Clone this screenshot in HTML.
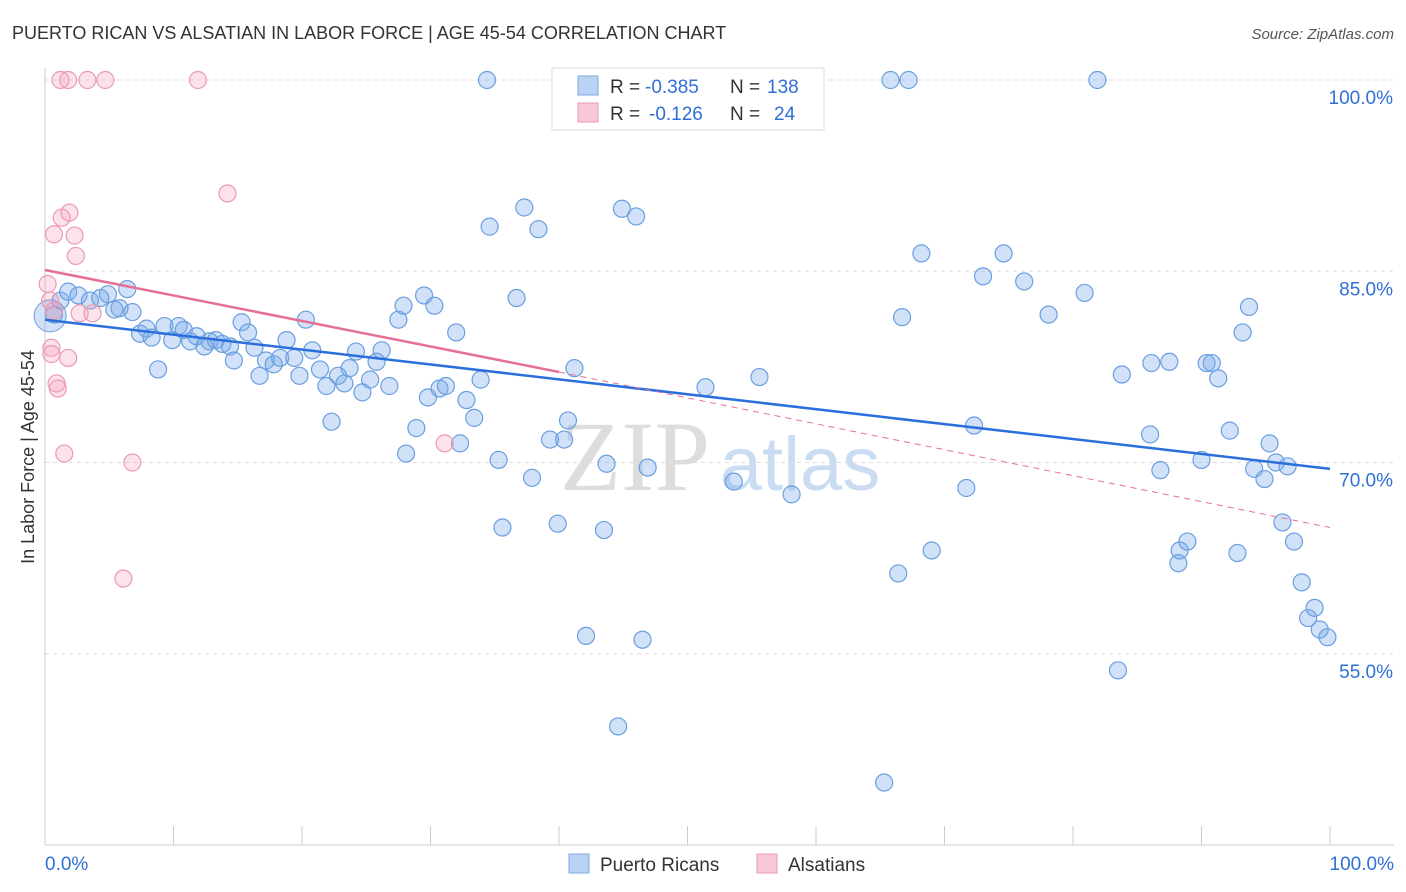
<!DOCTYPE html>
<html><head><meta charset="utf-8"><style>
body{margin:0;background:#fff;font-family:"Liberation Sans",sans-serif;}
#wrap{position:relative;width:1406px;height:892px;overflow:hidden;}
</style></head><body>
<div id="wrap">
<svg id="chart" width="1406" height="892" xmlns="http://www.w3.org/2000/svg">
<text x="12" y="39" font-size="18" fill="#333">PUERTO RICAN VS ALSATIAN IN LABOR FORCE | AGE 45-54 CORRELATION CHART</text>
<text x="1394" y="39" font-size="15" fill="#555" font-style="italic" text-anchor="end">Source: ZipAtlas.com</text>
<text x="635" y="490" font-size="100" fill="#ddd" font-family="Liberation Serif,serif" text-anchor="middle">ZIP</text>
<text x="800" y="490" font-size="76" fill="#c9dcf2" text-anchor="middle">atlas</text>
<g id="grid"></g><g id="pts"></g><g id="lines"></g>
<text transform="translate(34,457) rotate(-90)" font-size="18" fill="#333" text-anchor="middle">In Labor Force | Age 45-54</text>
<g>
<rect x="552" y="68" width="272" height="62" fill="#fff" stroke="#ddd"/>
<rect x="578" y="76" width="20" height="19" fill="#b8d3f4" stroke="#7fa9e0"/>
<rect x="578" y="103" width="20" height="19" fill="#f9c8d6" stroke="#ec9ab3"/>
<text x="610" y="93" font-size="19" fill="#333">R =</text>
<text x="645" y="93" font-size="19" fill="#2f6fd6">-0.385</text>
<text x="730" y="93" font-size="19" fill="#333">N =</text>
<text x="767" y="93" font-size="19" fill="#2f6fd6">138</text>
<text x="610" y="120" font-size="19" fill="#333">R =</text>
<text x="649" y="120" font-size="19" fill="#2f6fd6">-0.126</text>
<text x="730" y="120" font-size="19" fill="#333">N =</text>
<text x="774" y="120" font-size="19" fill="#2f6fd6">24</text>
</g>
<g>
<rect x="569" y="854" width="20" height="19" fill="#b8d3f4" stroke="#7fa9e0"/>
<text x="600" y="871" font-size="19" fill="#333">Puerto Ricans</text>
<rect x="757" y="854" width="20" height="19" fill="#f9c8d6" stroke="#ec9ab3"/>
<text x="788" y="871" font-size="19" fill="#333">Alsatians</text>
</g>
</svg>
</div>
<script>
const yTicks=[55,70,85,100];
const xTickLabels=["0.0%","100.0%"];
const blueX=[34.4,65.8,67.2,81.9,34.6,37.3,38.4,44.9,46.0,68.2,74.6,73.0,76.2,80.9,93.7,78.1,66.7,93.2,0.7,1.2,1.8,2.6,3.5,4.3,4.9,5.8,6.4,6.8,5.4,7.4,7.9,8.3,8.8,9.3,9.9,10.4,10.8,11.3,11.8,12.4,12.8,13.3,13.8,14.4,14.7,15.3,15.8,16.3,16.7,17.2,17.8,18.3,18.8,19.4,19.8,20.3,20.8,21.4,21.9,22.3,22.8,23.3,23.7,24.2,24.7,25.3,25.8,26.2,26.8,27.5,27.9,28.1,28.9,29.5,29.8,30.3,30.7,31.2,32.0,32.3,32.8,33.4,33.9,35.3,35.6,36.7,37.9,39.3,39.9,40.4,40.7,41.2,42.1,43.5,43.7,44.6,46.5,46.9,51.4,53.6,55.6,58.1,65.3,66.4,69.0,71.7,72.3,83.5,83.8,86.0,86.1,86.8,87.5,88.2,88.3,88.9,90.0,90.4,90.8,91.3,92.2,92.8,94.1,94.9,95.3,95.8,96.3,96.7,97.2,97.8,98.3,98.8,99.2,99.8];
const blueY=[100,100,100,100,88.5,90.0,88.3,89.9,89.3,86.4,86.4,84.6,84.2,83.3,82.2,81.6,81.4,80.2,81.6,82.7,83.4,83.1,82.7,82.9,83.2,82.1,83.6,81.8,82.0,80.1,80.5,79.8,77.3,80.7,79.6,80.7,80.4,79.5,79.9,79.1,79.5,79.6,79.3,79.1,78.0,81.0,80.2,79.0,76.8,78.0,77.7,78.2,79.6,78.2,76.8,81.2,78.8,77.3,76.0,73.2,76.8,76.2,77.4,78.7,75.5,76.5,77.9,78.8,76.0,81.2,82.3,70.7,72.7,83.1,75.1,82.3,75.8,76.0,80.2,71.5,74.9,73.5,76.5,70.2,64.9,82.9,68.8,71.8,65.2,71.8,73.3,77.4,56.4,64.7,69.9,49.3,56.1,69.6,75.9,68.5,76.7,67.5,44.9,61.3,63.1,68.0,72.9,53.7,76.9,72.2,77.8,69.4,77.9,62.1,63.1,63.8,70.2,77.8,77.8,76.6,72.5,62.9,69.5,68.7,71.5,70.0,65.3,69.7,63.8,60.6,57.8,58.6,56.9,56.3];
const pinkX=[1.2,1.8,3.3,4.7,11.9,14.2,1.3,1.9,0.7,2.3,2.4,0.2,0.4,0.7,2.7,3.7,0.5,0.5,1.8,0.9,1.0,1.5,6.8,31.1,6.1];
const pinkY=[100,100,100,100,100,91.1,89.2,89.6,87.9,87.8,86.2,84.0,82.7,81.9,81.7,81.7,79.0,78.5,78.2,76.2,75.8,70.7,70.0,71.5,60.9];
const blueTrend=[81.2,69.5];
const pinkTrend=[85.1,77.1,40,64.9];
const X=v=>45+v*12.85, Y=v=>80+(100-v)*12.75;
const NS="http://www.w3.org/2000/svg";
function mk(p,t,a){const e=document.createElementNS(NS,t);for(const k in a)e.setAttribute(k,a[k]);p.appendChild(e);return e;}
const grid=document.getElementById('grid'),pts=document.getElementById('pts'),lines=document.getElementById('lines');
yTicks.forEach(t=>{
 const l=mk(grid,'line',{x1:45,x2:1394,y1:Y(t),y2:Y(t),stroke:'#ddd','stroke-dasharray':'4,4'});
 
 
 const tx=mk(grid,'text',{x:1393,y:Y(t)+24,'font-size':19,fill:'#2f6fd6','text-anchor':'end'});tx.textContent=t.toFixed(1)+'%';
 
 
});
mk(grid,'line',{x1:45,x2:45,y1:68,y2:845,stroke:'#ccc'});
mk(grid,'line',{x1:45,x2:1394,y1:845,y2:845,stroke:'#ccc'});
for(let i=0;i<=10;i++){mk(grid,'line',{x1:X(i*10),x2:X(i*10),y1:826,y2:845,stroke:'#ccc'});}
[[0,'start',45],[1,'end',1394]].forEach(([i,a,x])=>{const t=mk(grid,'text',{x:x,y:870,'font-size':19,fill:'#2f6fd6','text-anchor':a});t.textContent=xTickLabels[i];
 
 });
blueX.forEach((x,i)=>{const c=mk(pts,'circle',{cx:X(x),cy:Y(blueY[i]),r:8.5,fill:'rgba(120,170,235,0.35)',stroke:'#6a9fe0','stroke-width':1.2});
 
 });
const big=mk(pts,'circle',{cx:X(0.4),cy:Y(81.5),r:16,fill:'rgba(120,170,235,0.35)',stroke:'#6a9fe0'});


pinkX.forEach((x,i)=>{const c=mk(pts,'circle',{cx:X(x),cy:Y(pinkY[i]),r:8.5,fill:'rgba(245,160,185,0.3)',stroke:'#ec9ab3','stroke-width':1.2});
 
 });
const bl=mk(lines,'line',{x1:X(0),y1:Y(blueTrend[0]),x2:X(100),y2:Y(blueTrend[1]),stroke:'#2a6fdb','stroke-width':2.5});


const pd=mk(lines,'line',{x1:X(pinkTrend[2]),y1:Y(pinkTrend[1]),x2:X(100),y2:Y(pinkTrend[3]),stroke:'#e66f96','stroke-width':1,'stroke-dasharray':'6,5'});


const pl=mk(lines,'line',{x1:X(0),y1:Y(pinkTrend[0]),x2:X(pinkTrend[2]),y2:Y(pinkTrend[1]),stroke:'#e66f96','stroke-width':2.5});


</script>
</body></html>
